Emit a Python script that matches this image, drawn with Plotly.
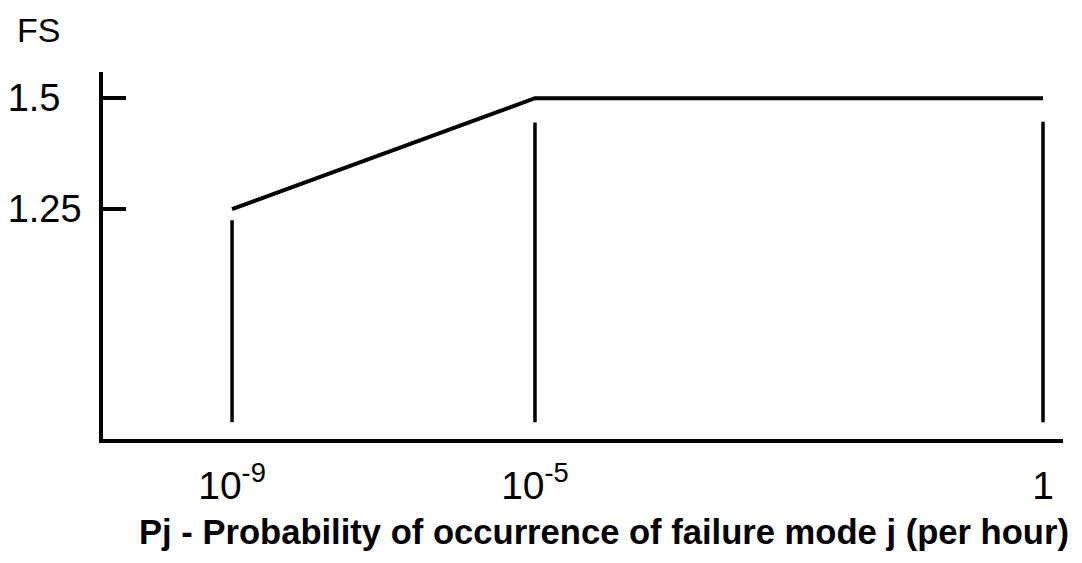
import plotly.graph_objects as go

# Data (schematic positions along x; axis is not to scale in the original)
x_labels = ["10<sup>-9</sup>", "10<sup>-5</sup>", "1"]
x_pos = [0.0, 1.0, 2.677]
fs_values = [1.25, 1.5, 1.5]
drop_top = [1.225, 1.445, 1.447]
drop_bottom = [0.77, 0.77, 0.77]
y_ticks = [1.25, 1.5]
y_ticktext = ["1.25", "1.5\u2007"]

fig = go.Figure()

# main FS curve
fig.add_trace(go.Scatter(x=x_pos, y=fs_values, mode="lines",
                         line=dict(color="black", width=4), hoverinfo="skip"))

# vertical drop lines
dx, dy = [], []
for xp, t, b in zip(x_pos, drop_top, drop_bottom):
    dx += [xp, xp, None]
    dy += [b, t, None]
fig.add_trace(go.Scatter(x=dx, y=dy, mode="lines",
                         line=dict(color="black", width=3.5), hoverinfo="skip"))

font_family = "Arial, Liberation Sans, sans-serif"

fig.update_layout(
    width=1082, height=563,
    margin=dict(l=103, r=19, t=72, b=124, autoexpand=False),
    paper_bgcolor="white", plot_bgcolor="white",
    showlegend=False,
    font=dict(family=font_family, color="black"),
    xaxis=dict(range=[-0.426, 2.743], tickvals=x_pos, ticktext=x_labels,
               showgrid=False, zeroline=False, showline=True, linecolor="black",
               linewidth=3.5, ticks="", tickfont=dict(size=39),
               ticklabelstandoff=9, automargin=False),
    yaxis=dict(range=[0.732, 1.559], tickvals=y_ticks, ticktext=y_ticktext,
               showgrid=False, zeroline=False, showline=True, linecolor="black",
               linewidth=3.5, ticks="inside", ticklen=23, tickwidth=3.5,
               tickcolor="black", tickfont=dict(size=38),
               ticklabelstandoff=10, automargin=False),
    annotations=[
        dict(text="FS", xref="paper", yref="paper", x=-0.0917, y=1.114,
             xanchor="left", yanchor="middle", showarrow=False,
             font=dict(size=34)),
        dict(text="<b>Pj - Probability of occurrence of failure mode j (per hour)</b>",
             xref="paper", yref="paper", x=0.522, y=-0.253,
             xanchor="center", yanchor="middle", showarrow=False,
             font=dict(size=34.6)),
    ],
)

fig.write_html("out.html", config={"displayModeBar": False},
               post_script="document.body.style.margin='0';")
